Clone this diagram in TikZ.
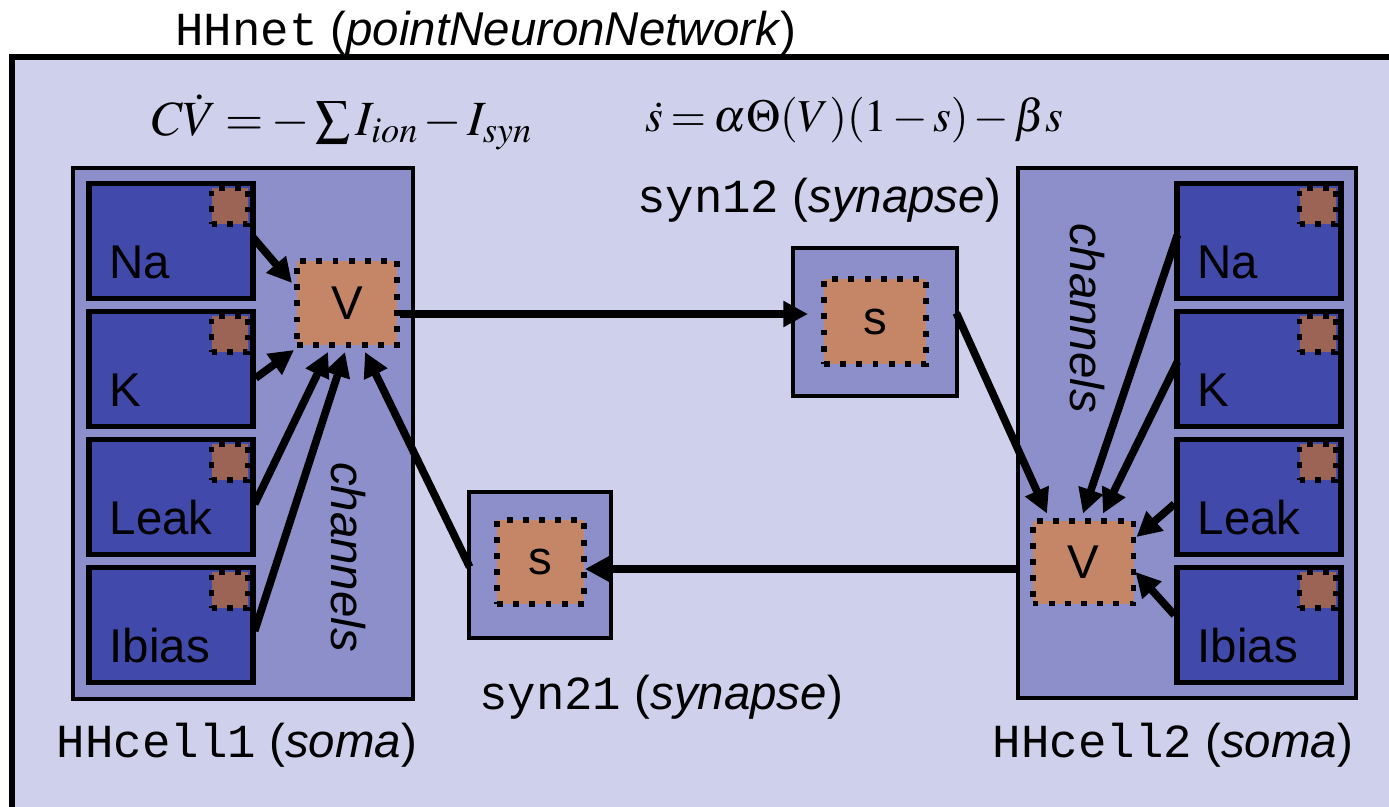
\documentclass[tikz,border=0pt]{standalone}
\usepackage{mathptmx}
\usepackage[no-math]{fontspec}
\setmainfont{Liberation Sans}
\setmonofont{Liberation Mono}
\usetikzlibrary{arrows.meta,calc,positioning}
\definecolor{netfill}{HTML}{CFD0EB}
\definecolor{somafill}{HTML}{8C8FCA}
\definecolor{chanfill}{HTML}{414AAA}
\definecolor{varfill}{HTML}{C58668}
\definecolor{gatefill}{HTML}{9C6455}
\newcommand{\bigfont}{\fontsize{27}{32}\selectfont}
\newcommand{\eqfont}{\fontsize{28}{34}\selectfont\thickmuskip=3mu\medmuskip=2mu}
\newcommand{\eqsfont}{\fontsize{26}{32}\selectfont\thickmuskip=3mu\medmuskip=2mu}

\tikzset{
  soma/.style={draw,line width=2.7pt,fill=somafill},
  chan/.style={draw,line width=3pt,fill=chanfill,minimum width=3.28cm,minimum height=2.3cm},
  chanlabel/.style={anchor=base west,inner sep=0pt,font=\bigfont},
  var/.style={draw,fill=varfill,line width=3.4pt,dash pattern=on 3.4pt off 5.8pt,font=\bigfont},
  gate/.style={draw,fill=gatefill,line width=3.2pt,dash pattern=on 3.2pt off 5.8pt,minimum size=0.72cm,inner sep=0pt},
  arr/.style={line width=4.4pt,-{Triangle[length=14pt,width=14pt]}},
  lbl/.style={font=\bigfont,inner sep=0pt}
}

\begin{document}
\begin{tikzpicture}[x=0.02cm,y=-0.02cm]
\useasboundingbox (0,0) rectangle (1389,806);
\clip (0,0) rectangle (1389,806);
% network frame
\draw[line width=3.4pt,fill=netfill] (12,57) rectangle (1430,850);
\node[lbl] (nettitle) at (486,33) {{\ttfamily HHnet} (\textit{pointNeuronNetwork})};
\node[font=\eqfont,inner sep=0pt] (eqv) at (342,122) {$C\dot{V} = -\sum I_{ion} - I_{syn}$};
\node[font=\eqsfont,inner sep=0pt] (eqs) at (854,120) {$\dot{s} = \alpha\Theta(V)(1-s)-\beta s$};

% cells
\node[soma,minimum width=6.8cm,minimum height=10.62cm] (soma1) at (243,433.5) {};
\node[soma,minimum width=6.76cm,minimum height=10.6cm] (soma2) at (1187,433) {};
\foreach \n/\t/\y in {na/Na/241,k/K/369,leak/Leak/497,ibias/Ibias/625}{
  \node[chan] (\n1) at (171,\y) {};
  \node[chanlabel] at ($(\n1.south west)+(23,-23)$) {\t};
  \node[gate] (\n1g) at ($(\n1.north east)+(-26,25)$) {};
  \node[chan] (\n2) at (1259,\y) {};
  \node[chanlabel] at ($(\n2.south west)+(23,-23)$) {\t};
  \node[gate] (\n2g) at ($(\n2.north east)+(-26,25)$) {};
}
\node[var,minimum width=2cm,minimum height=1.68cm] (v1) at (347,303) {V};
\node[var,minimum width=2.02cm,minimum height=1.66cm] (v2) at (1083,562) {V};
\node[lbl,rotate=-90] (chl1) at (348,557) {\textit{channels}};
\node[lbl,rotate=-90] (chl2) at (1087,318) {\textit{channels}};
\node[lbl] (cell1) at (237,745) {{\ttfamily HHcell1} (\textit{soma})};
\node[lbl] (cell2) at (1173,745) {{\ttfamily HHcell2} (\textit{soma})};

% synapses
\node[soma,minimum width=3.28cm,minimum height=2.96cm] (s12) at (875,322) {};
\node[var,minimum width=2.04cm,minimum height=1.7cm] (s12in) at (875,321.5) {s};
\node[lbl] (syn12) at (819,200) {{\ttfamily syn12} (\textit{synapse})};
\node[soma,minimum width=2.84cm,minimum height=2.92cm] (s21) at (540,565) {};
\node[var,minimum width=1.74cm,minimum height=1.68cm] (s21in) at (540.5,562) {s};
\node[lbl] (syn21) at (661,697) {{\ttfamily syn21} (\textit{synapse})};

% currents into V
\draw[arr] ($(na1.east)+(-3,-4)$) -- ($(v1.west)+(-2,-20)$);
\draw[arr] ($(k1.east)+(0,9)$) -- ($(v1.south west)+(0,2)$);
\draw[arr] ($(leak1.east)+(-1,7)$) -- ($(v1.south)+(-19,4)$);
\draw[arr] ($(ibias1.east)+(-1,6)$) -- ($(v1.south)+(-2,4)$);
\draw[arr] ($(s21.west)+(3,2)$) -- ($(v1.south)+(18,4)$);
\draw[arr] ($(na2.west)+(3,-6)$) -- ($(v2.north)+(0,-4)$);
\draw[arr] ($(k2.west)+(3,-7)$) -- ($(v2.north)+(20,-4)$);
\draw[arr] ($(leak2.west)+(0,7)$) -- ($(v2.east)+(0,-25)$);
\draw[arr] ($(ibias2.west)+(0,-10)$) -- ($(v2.east)+(-1,10)$);
\draw[arr] ($(s12.east)+(-3,-9)$) -- ($(v2.north)+(-36,-4)$);
% V to synapses
\draw[arr] ($(v1.east)+(0,11)$) -- ($(s12in.west)+(-13,-7.5)$);
\draw[arr] ($(soma2.west |- v2.west)+(0,7)$) -- ($(s21in.east)+(-2,7)$);
\end{tikzpicture}
\end{document}
